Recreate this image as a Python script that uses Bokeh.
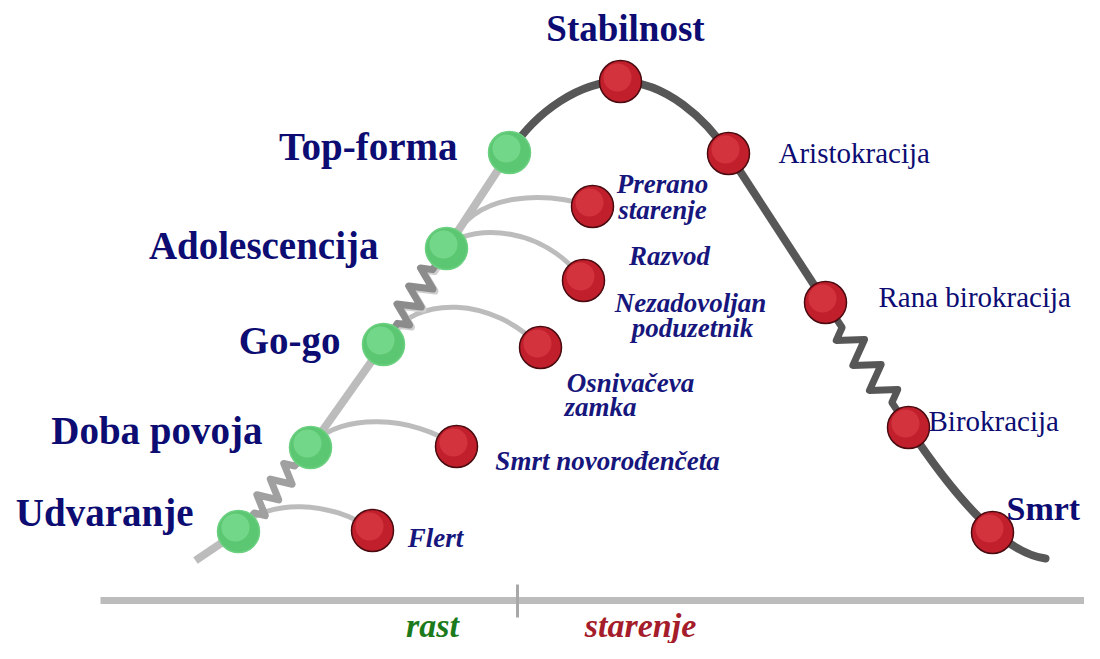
from bokeh.plotting import figure
from bokeh.models import Range1d
from bokeh.core.properties import value
from bokeh.embed import file_html
from bokeh.resources import INLINE

# ---------------- data ----------------
growth_stages = ["Udvaranje", "Doba povoja", "Go-go", "Adolescencija", "Top-forma"]
growth_x = [238, 310, 383, 446, 509]
growth_y = [531, 447, 344, 248, 152]

aging_stages = ["Stabilnost", "Aristokracija", "Rana birokracija", "Birokracija", "Smrt"]
aging_x = [620, 728, 825, 908, 992]
aging_y = [81, 153, 302, 427, 532]

trap_names = ["Flert", "Smrt novorođenčeta", "Osnivačeva zamka", "Razvod", "Prerano starenje"]
trap_from = [0, 1, 2, 3, 3]          # index of growth stage the branch leaves
trap_x = [372, 456, 540, 583, 592]
trap_y = [530, 446, 347, 280, 206]
trap_peak_y = [503, 418, 300, 228, 196]

curve_start = (195, 560)
curve_end = (1045, 558)

axis_x = [100, 1084]
axis_y = 600
axis_split = 517
phase_labels = ["rast", "starenje"]
phase_x = [432, 640]
phase_colors = ["#1b7a1b", "#a51c2a"]

# ---------------- figure ----------------
p = figure(width=1084, height=643, output_backend="svg", toolbar_location=None,
           x_range=Range1d(0, 1084), y_range=Range1d(643, 0), min_border=0)
p.axis.visible = False
p.grid.visible = False
p.outline_line_color = None
p.background_fill_color = "white"

LIGHT = "#bcbcbc"
SPRING_L = "#a0a0a0"
DARK = "#575757"
NAVY = "#0c0c72"
ITAL = "#16167c"


def spring(x0, y0, x1, y1, n=3, amp=11, lead=0.22):
    dx, dy = x1 - x0, y1 - y0
    L = (dx * dx + dy * dy) ** 0.5
    ux, uy = dx / L, dy / L
    nx, ny = -uy, ux
    xs, ys = [x0, x0 + dx * lead], [y0, y0 + dy * lead]
    k = 2 * n
    for i in range(1, k + 1):
        t = lead + (1 - 2 * lead) * (i - 0.5) / k
        s = amp if i % 2 else -amp
        xs.append(x0 + dx * t + nx * s)
        ys.append(y0 + dy * t + ny * s)
    xs += [x0 + dx * (1 - lead), x1]
    ys += [y0 + dy * (1 - lead), y1]
    return xs, ys


# bottom axis
p.line(axis_x, [axis_y, axis_y], line_color=LIGHT, line_width=7)
p.line([axis_split, axis_split], [584, 617], line_color="#a8a8a8", line_width=3)
p.text(phase_x, [625, 625], text=phase_labels, text_color=phase_colors,
       text_align="center", text_baseline="middle",
       text_font=value("Liberation Serif"), text_font_style="bold italic",
       text_font_size="34px")

# branches (light arcs)
for i, f in enumerate(trap_from):
    sx, sy = growth_x[f], growth_y[f]
    ex, ey = trap_x[i], trap_y[i]
    pk = trap_peak_y[i]
    c0x = sx + (ex - sx) * 0.2
    c1x = sx + (ex - sx) * 0.7
    p.bezier(x0=[sx + 4], y0=[sy - 5], x1=[ex], y1=[ey],
             cx0=[c0x], cy0=[pk - (sy - pk) * 0.15], cx1=[c1x], cy1=[pk - 4],
             line_color=LIGHT, line_width=5)

# main rising line (light), with springs
p.line([curve_start[0], growth_x[0]], [curve_start[1], growth_y[0]], line_color=LIGHT, line_width=8)
sx, sy = spring(growth_x[0], growth_y[0], growth_x[1], growth_y[1], n=3, amp=10)
p.line(sx, sy, line_color=SPRING_L, line_width=7, line_join="round")
p.line([growth_x[1], growth_x[2]], [growth_y[1], growth_y[2]], line_color=LIGHT, line_width=8)
sx, sy = spring(growth_x[2], growth_y[2], growth_x[3], growth_y[3], n=3, amp=11)
p.line([v + 2 for v in sx], [v + 2 for v in sy], line_color="#cfcfcf", line_width=7, line_join="round")
p.line(sx, sy, line_color="#8c8c8c", line_width=7, line_join="round")
p.line([growth_x[3], growth_x[4]], [growth_y[3], growth_y[4]], line_color=LIGHT, line_width=8)

# dark aging curve
p.bezier(x0=[growth_x[4], aging_x[0]], y0=[growth_y[4], aging_y[0]],
         x1=[aging_x[0], aging_x[1]], y1=[aging_y[0], aging_y[1]],
         cx0=[growth_x[4] + 27, aging_x[0] + 45], cy0=[growth_y[4] - 42, aging_y[0]],
         cx1=[aging_x[0] - 40, aging_x[1] - 22], cy1=[aging_y[0], aging_y[1] - 34],
         line_color=DARK, line_width=8)
p.line([aging_x[1], aging_x[2]], [aging_y[1], aging_y[2]], line_color=DARK, line_width=8)
sx, sy = spring(aging_x[2], aging_y[2], aging_x[3], aging_y[3], n=3, amp=12, lead=0.2)
p.line(sx, sy, line_color=DARK, line_width=7, line_join="round")
p.bezier(x0=[aging_x[3]], y0=[aging_y[3]], x1=[curve_end[0]], y1=[curve_end[1]],
         cx0=[aging_x[3] + 42], cy0=[aging_y[3] + 63], cx1=[1000], cy1=[552],
         line_color=DARK, line_width=8, line_cap="round")

# nodes
def ball(xs, ys, base, hi, edge):
    p.scatter(xs, ys, size=42, fill_color=base, line_color=edge, line_width=1.5)
    p.scatter([x - 3 for x in xs], [y - 4 for y in ys], size=28, fill_color=hi,
              fill_alpha=0.55, line_color=None)

ball(growth_x, growth_y, "#5cc772", "#86e39c", "#6bd080")
ball(trap_x, trap_y, "#c21f2c", "#e2434d", "#4a0b10")
ball(aging_x, aging_y, "#c21f2c", "#e2434d", "#4a0b10")

# labels
font = value("Liberation Serif")
p.text([193, 262, 340, 378, 457], [512, 430, 340, 245, 146], text=growth_stages,
       text_align="right", text_baseline="middle", text_font=font,
       text_font_style="bold", text_font_size="39px", text_color=NAVY)
p.text([625], [28], text=[aging_stages[0]], text_align="center", text_baseline="middle",
       text_font=font, text_font_style="bold", text_font_size="37px", text_color=NAVY)
p.text([1006], [508], text=[aging_stages[4]], text_align="left", text_baseline="middle",
       text_font=font, text_font_style="bold", text_font_size="34px", text_color=NAVY)
p.text([778, 878, 928], [152, 296, 420], text=aging_stages[1:4], text_align="left",
       text_baseline="middle", text_font=font, text_font_size="29px", text_color=NAVY)

trap_lines = ["Prerano", "starenje", "Razvod", "Nezadovoljan", "poduzetnik",
              "Osnivačeva", "zamka", "Smrt novorođenčeta", "Flert"]
trap_lx = [662, 662, 669, 690, 692, 630, 600, 607, 435]
trap_ly = [183, 209, 255, 302, 327, 382, 406, 460, 537]
p.text(trap_lx, trap_ly, text=trap_lines, text_align="center", text_baseline="middle",
       text_font=font, text_font_style="bold italic", text_font_size="27px", text_color=ITAL)

open("out.html", "w").write(file_html(p, INLINE))
